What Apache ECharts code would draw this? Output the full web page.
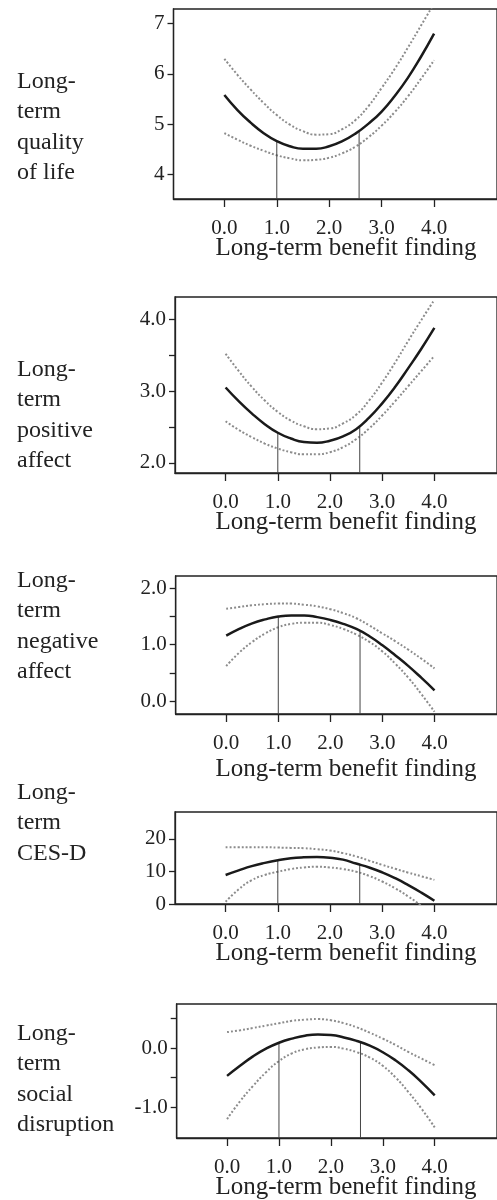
<!DOCTYPE html>
<html><head><meta charset="utf-8">
<script src="https://cdn.jsdelivr.net/npm/echarts@6/dist/echarts.min.js"></script>
<style>html,body{margin:0;padding:0;background:#fff}#c{width:497px;height:1200px}</style>
</head><body><div id="c"></div>
<script>
// ---- data ----
const xs = [0, 0.25, 0.5, 0.75, 1, 1.25, 1.5, 1.75, 2, 2.25, 2.5, 2.75, 3, 3.25, 3.5, 3.75, 4];
const xTickValues = [0, 1, 2, 3, 4];
const refX = [1.0, 2.57];

const panelLabels = [
  "Long-\nterm\nquality\nof life",
  "Long-\nterm\npositive\naffect",
  "Long-\nterm\nnegative\naffect",
  "Long-\nterm\nCES-D",
  "Long-\nterm\nsocial\ndisruption"
];
const xTitle = "Long-term benefit finding";

const qolMain  = [5.58, 5.28, 5.03, 4.82, 4.66, 4.56, 4.51, 4.51, 4.56, 4.66, 4.81, 5.01, 5.25, 5.56, 5.92, 6.34, 6.80];
const qolUpper = [6.30, 5.98, 5.69, 5.42, 5.18, 4.99, 4.86, 4.79, 4.80, 4.90, 5.08, 5.36, 5.72, 6.10, 6.52, 6.96, 7.40];
const qolLower = [4.82, 4.69, 4.57, 4.47, 4.38, 4.32, 4.28, 4.29, 4.33, 4.42, 4.55, 4.74, 4.97, 5.24, 5.55, 5.90, 6.27];
const qolRefTop = [4.66, 4.86];
const qolTicks = [4, 5, 6, 7];
const qolLabels = [4, 5, 6, 7];

const paMain  = [3.05, 2.86, 2.69, 2.54, 2.42, 2.34, 2.29, 2.28, 2.31, 2.37, 2.47, 2.63, 2.83, 3.06, 3.32, 3.59, 3.88];
const paUpper = [3.52, 3.28, 3.06, 2.87, 2.71, 2.59, 2.51, 2.47, 2.48, 2.55, 2.67, 2.87, 3.12, 3.40, 3.70, 3.99, 4.27];
const paLower = [2.58, 2.46, 2.36, 2.27, 2.20, 2.15, 2.12, 2.12, 2.15, 2.22, 2.33, 2.48, 2.66, 2.86, 3.07, 3.28, 3.49];
const paRefTop = [2.42, 2.51];
const paTicks = [2, 2.5, 3, 3.5, 4];
const paLabels = [2, 3, 4];

const naMain  = [1.16, 1.28, 1.38, 1.45, 1.50, 1.52, 1.52, 1.49, 1.44, 1.37, 1.28, 1.15, 0.99, 0.81, 0.62, 0.41, 0.19];
const naUpper = [1.64, 1.67, 1.70, 1.72, 1.73, 1.73, 1.71, 1.68, 1.63, 1.56, 1.47, 1.34, 1.20, 1.06, 0.91, 0.75, 0.58];
const naLower = [0.62, 0.86, 1.05, 1.20, 1.31, 1.37, 1.39, 1.39, 1.35, 1.28, 1.18, 1.05, 0.88, 0.66, 0.41, 0.12, -0.19];
const naRefTop = [1.50, 1.24];
const naTicks = [0, 0.5, 1, 1.5, 2];
const naLabels = [0, 1, 2];

const cesMain  = [8.9, 10.3, 11.6, 12.6, 13.4, 14.0, 14.3, 14.4, 14.2, 13.6, 12.4, 11.2, 9.7, 7.9, 5.8, 3.5, 1.0];
const cesUpper = [17.4, 17.4, 17.4, 17.4, 17.3, 17.2, 17.1, 16.8, 16.4, 15.6, 14.6, 13.3, 12.0, 10.8, 9.6, 8.5, 7.4];
const cesLower = [0.7, 4.5, 7.3, 8.9, 9.9, 10.7, 11.2, 11.4, 11.2, 10.7, 9.9, 8.6, 6.9, 4.8, 2.3, -0.6, -4.0];
const cesRefTop = [13.4, 12.1];
const cesTicks = [0, 10, 20];
const cesLabels = [0, 10, 20];

const sdMain  = [-0.47, -0.30, -0.14, -0.01, 0.09, 0.16, 0.21, 0.23, 0.22, 0.18, 0.12, 0.04, -0.07, -0.21, -0.38, -0.58, -0.80];
const sdUpper = [0.27, 0.30, 0.34, 0.38, 0.42, 0.46, 0.48, 0.49, 0.47, 0.42, 0.35, 0.26, 0.16, 0.05, -0.07, -0.18, -0.29];
const sdLower = [-1.20, -0.90, -0.64, -0.41, -0.22, -0.09, -0.02, 0.01, 0.02, -0.01, -0.07, -0.16, -0.30, -0.50, -0.75, -1.03, -1.34];
const sdRefTop = [0.09, 0.10];
const sdTicks = [-1, -0.5, 0, 0.5];
const sdLabels = [-1, 0];

// ---- layout / styling ----
const FONT = '"Liberation Serif", "Times New Roman", serif';
const panels = [
  {main: qolMain, up: qolUpper, lo: qolLower, ref: qolRefTop, ticks: qolTicks, labels: qolLabels, dec: 0,
   min: 3.51, max: 7.29, left: 173.5, top: 9, h: 190, labelTop: 66, titleY: 248},
  {main: paMain, up: paUpper, lo: paLower, ref: paRefTop, ticks: paTicks, labels: paLabels, dec: 1,
   min: 1.86, max: 4.31, left: 175, top: 297, h: 176, labelTop: 354, titleY: 522},
  {main: naMain, up: naUpper, lo: naLower, ref: naRefTop, ticks: naTicks, labels: naLabels, dec: 1,
   min: -0.23, max: 2.22, left: 175.7, top: 576, h: 138, labelTop: 565, titleY: 769},
  {main: cesMain, up: cesUpper, lo: cesLower, ref: cesRefTop, ticks: cesTicks, labels: cesLabels, dec: 0,
   min: 0, max: 28.2, left: 175, top: 812, h: 92, labelTop: 777, titleY: 953},
  {main: sdMain, up: sdUpper, lo: sdLower, ref: sdRefTop, ticks: sdTicks, labels: sdLabels, dec: 1,
   min: -1.52, max: 0.745, left: 176.7, top: 1004, h: 134, labelTop: 1018, titleY: 1187}
];
const X_MIN = -0.97, X_MAX = 5.2, PX_PER_UNIT = 54.3;

const grids = [], xAxes = [], yAxes = [], series = [], graphics = [];
panels.forEach((p, i) => {
  grids.push({left: p.left, top: p.top, height: p.h, width: (X_MAX - X_MIN) * PX_PER_UNIT,
    show: true, borderColor: '#222', borderWidth: 1.3, containLabel: false});
  xAxes.push({type: 'value', gridIndex: i, min: X_MIN, max: X_MAX,
    axisLine: {show: true, onZero: false, lineStyle: {color: '#222', width: 1.3}},
    axisTick: {show: true, customValues: xTickValues, length: 8, lineStyle: {color: '#222', width: 1.3}},
    axisLabel: {show: true, customValues: xTickValues, margin: 19, color: '#222',
      fontFamily: FONT, fontSize: 21, formatter: v => v.toFixed(1)},
    splitLine: {show: false}});
  yAxes.push({type: 'value', gridIndex: i, min: p.min, max: p.max,
    axisLine: {show: true, onZero: false, lineStyle: {color: '#222', width: 1.3}},
    axisTick: {show: true, customValues: p.ticks, length: 6, lineStyle: {color: '#222', width: 1.3}},
    axisLabel: {show: true, customValues: p.labels, margin: 9, color: '#222',
      fontFamily: FONT, fontSize: 21, formatter: v => v.toFixed(p.dec)},
    splitLine: {show: false}});
  const mk = arr => xs.map((x, k) => [x, arr[k]]);
  series.push({type: 'line', xAxisIndex: i, yAxisIndex: i, data: mk(p.up), smooth: 0.5,
    showSymbol: false, clip: true, lineStyle: {color: '#8c8c8c', width: 2, type: [2, 2]}, silent: true, z: 2});
  series.push({type: 'line', xAxisIndex: i, yAxisIndex: i, data: mk(p.lo), smooth: 0.5,
    showSymbol: false, clip: true, lineStyle: {color: '#8c8c8c', width: 2, type: [2, 2]}, silent: true, z: 2});
  refX.forEach((rx, k) => {
    series.push({type: 'line', xAxisIndex: i, yAxisIndex: i, data: [[rx, p.min], [rx, p.ref[k]]],
      showSymbol: false, clip: true, lineStyle: {color: '#444', width: 1}, silent: true, z: 3});
  });
  series.push({type: 'line', xAxisIndex: i, yAxisIndex: i, data: mk(p.main), smooth: 0.5,
    showSymbol: false, clip: true, lineStyle: {color: '#1a1a1a', width: 2.5}, silent: true, z: 4});
  graphics.push({type: 'text', left: 17, top: p.labelTop,
    style: {text: panelLabels[i], font: '24px ' + FONT, lineHeight: 30.5, fill: '#222'}});
  graphics.push({type: 'text', x: 346, y: p.titleY,
    style: {text: xTitle, font: '25px ' + FONT, fill: '#222', align: 'center', verticalAlign: 'middle'}});
});

const chart = echarts.init(document.getElementById('c'), null, {renderer: 'canvas'});
chart.setOption({animation: false, backgroundColor: '#fff', grid: grids, xAxis: xAxes, yAxis: yAxes,
  series: series, graphic: graphics});
</script></body></html>
